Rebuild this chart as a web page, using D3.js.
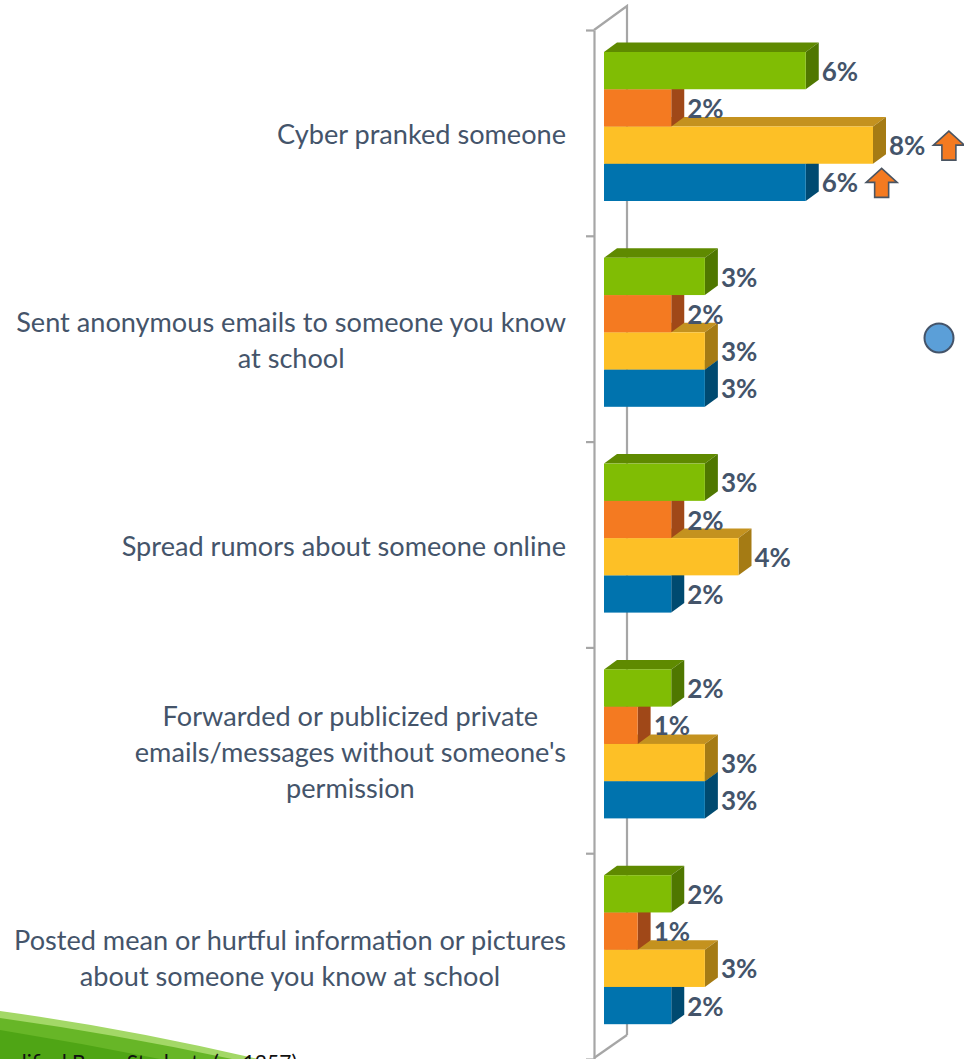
<!DOCTYPE html>
<html>
<head>
<meta charset="utf-8">
<script src="https://cdn.jsdelivr.net/npm/d3@7"></script>
<style>
  body { margin: 0; background: #fff; }
  svg { display: block; }
</style>
</head>
<body>
<script>
// ---- data ----
const categories = [
  "Cyber pranked someone",
  "Sent anonymous emails to someone you know\nat school",
  "Spread rumors about someone online",
  "Forwarded or publicized private\nemails/messages without someone's\npermission",
  "Posted mean or hurtful information or pictures\nabout someone you know at school"
];
const seriesNames = ["Series 1", "Series 2", "Series 3", "Series 4"];
const greenValues  = [6, 3, 3, 2, 2];
const orangeValues = [2, 2, 2, 1, 1];
const yellowValues = [8, 3, 4, 3, 3];
const blueValues   = [6, 3, 2, 3, 2];
const seriesValues = [greenValues, orangeValues, yellowValues, blueValues];
// significant increases: [category index, series index]
const increases = [[0, 2], [0, 3]];
const footnote = "Qualified Base: Students (n=1257)";

// ---- styles ----
const frontColors = ["#80bd04", "#f47a21", "#fdc026", "#0073ae"];
const topColors   = ["#5f8a00", "#b3561a", "#c4921f", "#005b8a"];
const sideColors  = ["#4f7700", "#a04818", "#a57b14", "#004a70"];
const textColor = "#44546a";
const axisColor = "#a6a6a6";

const W = 964, H = 1059;
const DX = 13, DY = -9.5;          // bar depth
const AX = 33, AY = -24;           // wall depth

const svg = d3.select("body").append("svg").attr("width", W).attr("height", H);

// ---- scales ----
const x = d3.scaleLinear().domain([0, 8]).range([604, 873]);
const y = d3.scaleBand().domain(categories).range([30, 1059]);
const inner = d3.scaleBand().domain(seriesNames).range([0, 149]);
const barTop = 22;
const edge = d3.scaleLinear().domain([0, categories.length]).range([30, 1059]);

// ---- decorative swoosh (bottom-left) ----
const deco = svg.append("g");
deco.append("path").attr("d", "M0,1011 Q125,1028 258,1059 L0,1059 Z").attr("fill", "#a3d867");
deco.append("path").attr("d", "M0,1018 Q115,1034 232,1059 L0,1059 Z").attr("fill", "#67b627");
deco.append("path").attr("d", "M0,1030 Q80,1043 160,1059 L0,1059 Z").attr("fill", "#4fa515");
deco.append("text")
  .attr("x", 297).attr("y", 1070)
  .attr("text-anchor", "end")
  .attr("font-family", "Lato, 'Open Sans', sans-serif")
  .attr("font-size", 21)
  .attr("fill", "#111")
  .text(footnote);

// ---- axis walls ----
const axisG = svg.append("g").attr("transform", "translate(594,0)")
  .call(d3.axisLeft(edge).tickValues(d3.range(categories.length + 1)).tickFormat("").tickSize(8).tickSizeOuter(0));
axisG.selectAll("path, line").attr("stroke", axisColor).attr("stroke-width", 2.2);

svg.append("path")
  .attr("d", `M594,${edge(0)} L${594 + AX},${edge(0) + AY} L${594 + AX},${edge(categories.length) + AY}`)
  .attr("fill", "none").attr("stroke", axisColor).attr("stroke-width", 2.2);
svg.append("path")
  .attr("d", `M${594 + AX},${edge(categories.length) + AY} L594,${edge(categories.length) - 1}`)
  .attr("fill", "none").attr("stroke", axisColor).attr("stroke-width", 2.2);

// ---- category labels ----
const labelG = svg.append("g")
  .attr("font-family", "Lato, 'Open Sans', sans-serif")
  .attr("fill", textColor);

// fit font size so the label column lines up with the right edge
const probe = labelG.append("text").attr("font-size", 24).text(categories[0]);
const probeW = probe.node().getComputedTextLength();
probe.remove();
const catFont = 24 * 289 / probeW;
const lineH = 36;

categories.forEach(cat => {
  const lines = cat.split("\n");
  const t = labelG.append("text").attr("font-size", catFont).attr("text-anchor", "middle");
  const spans = lines.map(ln => t.append("tspan").text(ln));
  const widths = spans.map(s => s.node().getComputedTextLength());
  const cx = 566 - d3.max(widths) / 2;
  const cy = y(cat) + y.bandwidth() / 2 + 2;
  spans.forEach((s, i) => {
    s.attr("x", cx).attr("y", cy + (i - (lines.length - 1) / 2) * lineH).attr("dy", "0.35em");
  });
});

// ---- 3D bars ----
const barsG = svg.append("g");
categories.forEach((cat, ci) => {
  for (let si = seriesNames.length - 1; si >= 0; si--) {
    const v = seriesValues[si][ci];
    const x0 = x(0), x1 = x(v);
    const y0 = y(cat) + barTop + inner(seriesNames[si]);
    const y1 = y0 + inner.bandwidth();
    const g = barsG.append("g");
    g.append("path")
      .attr("d", `M${x0},${y0} L${x0 + DX},${y0 + DY} L${x1 + DX},${y0 + DY} L${x1},${y0} Z`)
      .attr("fill", topColors[si]);
    g.append("path")
      .attr("d", `M${x1},${y0} L${x1 + DX},${y0 + DY} L${x1 + DX},${y1 + DY} L${x1},${y1} Z`)
      .attr("fill", sideColors[si]);
    g.append("rect")
      .attr("x", x0).attr("y", y0)
      .attr("width", x1 - x0).attr("height", y1 - y0)
      .attr("fill", frontColors[si]);
  }
});

// ---- value labels and increase markers ----
const valG = svg.append("g")
  .attr("font-family", "Lato, 'Open Sans', sans-serif")
  .attr("font-weight", 700)
  .attr("font-size", 26)
  .attr("fill", textColor);

const labelEnds = {};
categories.forEach((cat, ci) => {
  seriesNames.forEach((s, si) => {
    const v = seriesValues[si][ci];
    const cy = y(cat) + barTop + inner(s) + inner.bandwidth() / 2 + 1;
    const t = valG.append("text")
      .attr("x", x(v) + DX + 3)
      .attr("y", cy)
      .attr("dy", "0.35em")
      .text(v + "%");
    labelEnds[ci + "-" + si] = { x: x(v) + DX + 3 + t.node().getComputedTextLength(), y: cy };
  });
});

const arrowPath = "M15.5,0 L31,14 L22.5,14 L22.5,29 L8.5,29 L8.5,14 L0,14 Z";
increases.forEach(([ci, si]) => {
  const p = labelEnds[ci + "-" + si];
  svg.append("path")
    .attr("d", arrowPath)
    .attr("transform", `translate(${p.x + 8},${p.y - 15})`)
    .attr("fill", "#f47a21")
    .attr("stroke", "#4a5563")
    .attr("stroke-width", 1.6)
    .attr("stroke-linejoin", "miter");
});

// ---- stray marker ----
svg.append("circle")
  .attr("cx", 939).attr("cy", 338).attr("r", 14.5)
  .attr("fill", "#5b9fd8")
  .attr("stroke", "#44546a")
  .attr("stroke-width", 2);
</script>
</body>
</html>
